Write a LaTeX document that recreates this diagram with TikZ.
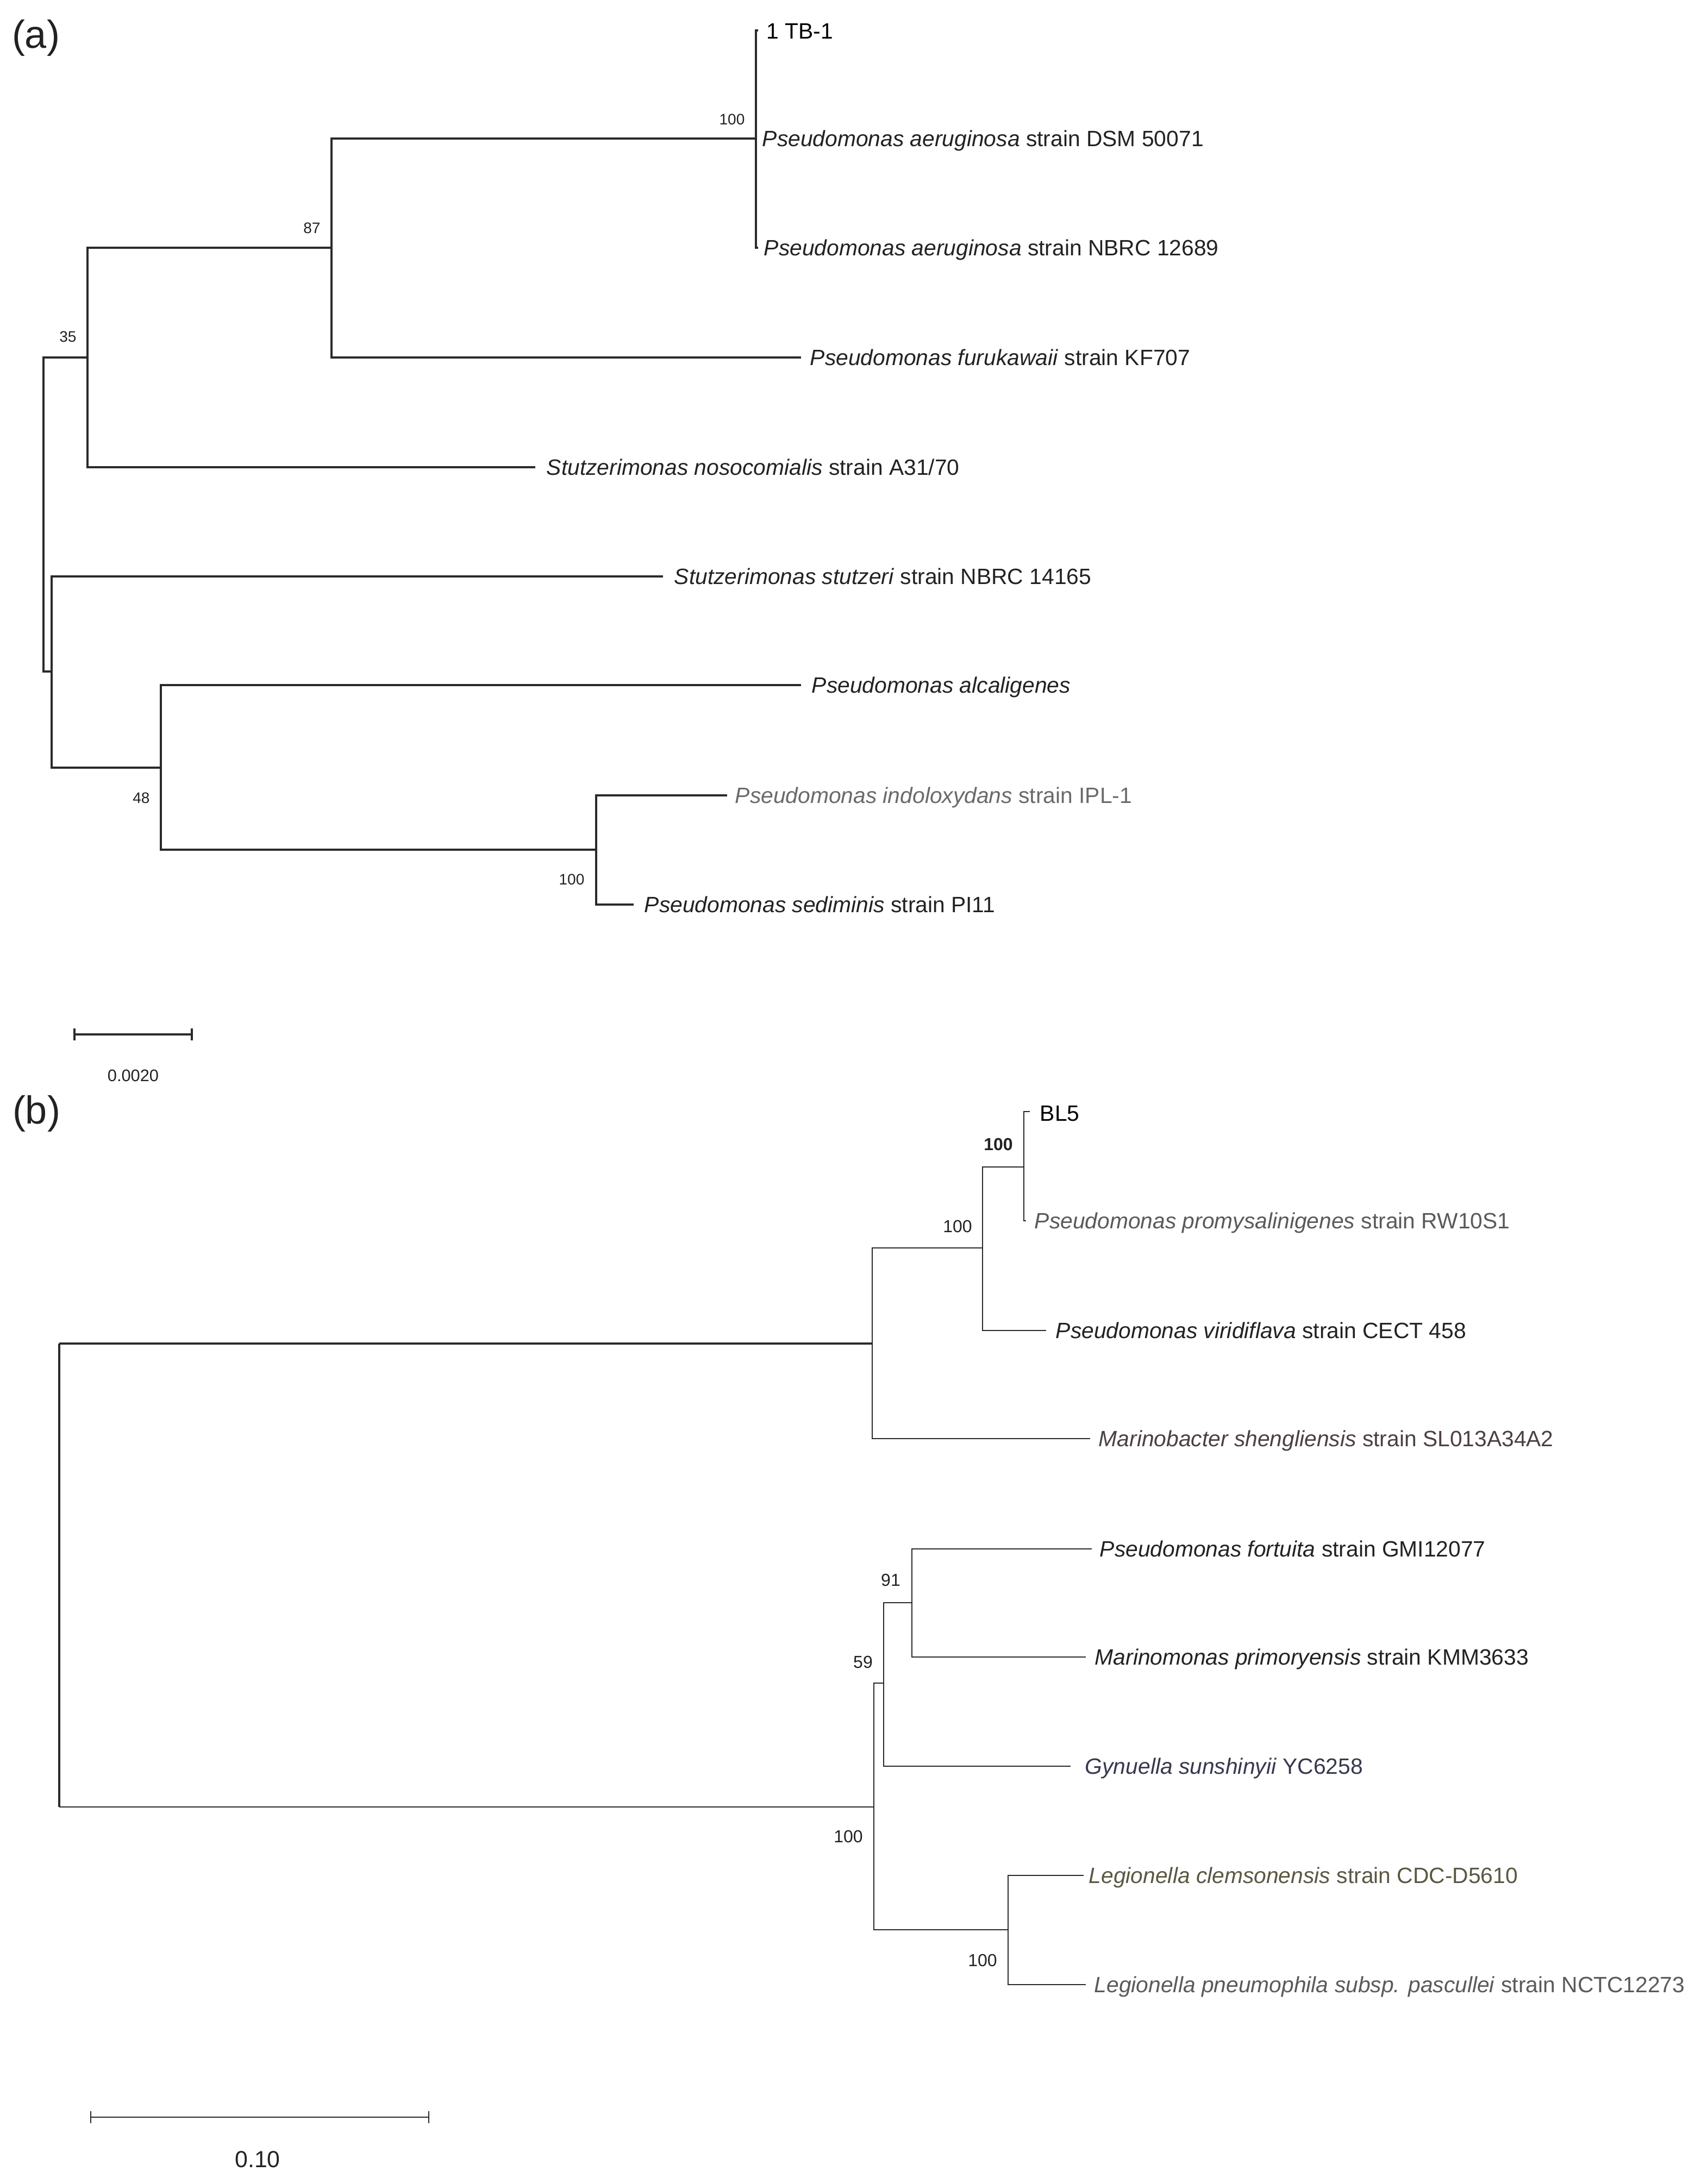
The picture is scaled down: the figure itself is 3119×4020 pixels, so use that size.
\documentclass[tikz,border=0pt]{standalone}
\usepackage{fontspec}
\setmainfont{Liberation Sans}
\usetikzlibrary{arrows.meta}
\definecolor{txt}{HTML}{222222}
\definecolor{ln}{HTML}{2A2A2A}
\definecolor{gryA}{HTML}{6A6A6A}
\definecolor{gryB}{HTML}{5A5A5A}
\definecolor{brn}{HTML}{4D3F40}
\definecolor{blu}{HTML}{38384E}
\definecolor{olv}{HTML}{5B5742}
\begin{document}
\begin{tikzpicture}[x=0.25pt,y=-0.25pt,
  bra/.style={line width=0.9pt, draw=ln},
  brb/.style={line width=0.6pt, draw=ln},
  leaf/.style={anchor=west, inner sep=0pt, text height=0.72em, text depth=0pt,
    font=\fontsize{10.2}{12}\selectfont, text=txt},
  boota/.style={inner sep=0pt, text height=0.72em, text depth=0pt,
    font=\fontsize{7}{8}\selectfont, text=txt},
  bootb/.style={inner sep=0pt, text height=0.72em, text depth=0pt,
    font=\fontsize{8}{9}\selectfont, text=txt},
  panel/.style={inner sep=0pt, font=\fontsize{18}{20}\selectfont, text=txt},
  scalebar/.style={{Bar[width=5.5pt]}-{Bar[width=5.5pt]}},
]
\useasboundingbox[fill=white] (0,0) rectangle (3119,4020);

% ---------------- panel (a) ----------------
\node[panel] (pa) at (66,70) {(a)};

\coordinate (ra) at (80,947);
\coordinate (a35) at (161,658);
\coordinate (a87) at (610,456);
\coordinate (a100) at (1391,255);
\coordinate (a2) at (95,1236);
\coordinate (a48) at (296,1413);
\coordinate (a100b) at (1097,1564);

\coordinate (tTB) at (1395,56);
\coordinate (tDSM) at (1391,255);
\coordinate (tNBRC) at (1395,456);
\coordinate (tFur) at (1474,658);
\coordinate (tNos) at (985,860);
\coordinate (tStu) at (1220,1061);
\coordinate (tAlc) at (1474,1261);
\coordinate (tInd) at (1338,1464);
\coordinate (tSed) at (1166,1665);

\node[leaf, text=black] (lTB) at (1410,57) {1 TB-1};
\node[leaf] (lDSM) at (1402,255) {\textit{Pseudomonas aeruginosa} strain DSM 50071};
\node[leaf] (lNBRC) at (1405,456) {\textit{Pseudomonas aeruginosa} strain NBRC 12689};
\node[leaf] (lFur) at (1490,658) {\textit{Pseudomonas furukawaii} strain KF707};
\node[leaf] (lNos) at (1005,860) {\textit{Stutzerimonas nosocomialis} strain A31/70};
\node[leaf] (lStu) at (1240,1061) {\textit{Stutzerimonas stutzeri} strain NBRC 14165};
\node[leaf] (lAlc) at (1493,1261) {\textit{Pseudomonas alcaligenes}};
\node[leaf, text=gryA] (lInd) at (1352,1464) {\textit{Pseudomonas indoloxydans} strain IPL-1};
\node[leaf] (lSed) at (1185,1665) {\textit{Pseudomonas sediminis} strain PI11};

\draw[bra] (ra) |- (a35);
\draw[bra] (ra) |- (a2);
\draw[bra] (a35) |- (a87);
\draw[bra] (a35) |- (tNos);
\draw[bra] (a87) |- (a100);
\draw[bra] (a87) |- (tFur);
\draw[bra] (a100) |- (tTB);
\draw[bra] (a100) |- (tDSM);
\draw[bra] (a100) |- (tNBRC);
\draw[bra] (a2) |- (tStu);
\draw[bra] (a2) |- (a48);
\draw[bra] (a48) |- (tAlc);
\draw[bra] (a48) |- (a100b);
\draw[bra] (a100b) |- (tInd);
\draw[bra] (a100b) |- (tSed);

\node[boota] (ba100) at (1347,215) {100};
\node[boota] (ba87) at (574,415) {87};
\node[boota] (ba35) at (125,615) {35};
\node[boota] (ba48) at (260,1464) {48};
\node[boota] (ba100b) at (1052,1614) {100};

\coordinate (sa1) at (135,1904);
\coordinate (sa2) at (355,1904);
\draw[bra, scalebar] (sa1) -- (sa2);
\node[inner sep=0pt, text height=0.72em, text depth=0pt, font=\fontsize{7.7}{9}\selectfont, text=txt] (sal) at (245,1976) {0.0020};

% ---------------- panel (b) ----------------
\node[panel] (pb) at (67,2050) {(b)};

\coordinate (rb) at (109,2900);
\coordinate (bA) at (1605,2473);
\coordinate (b100) at (1808,2297);
\coordinate (bBold) at (1884,2148);
\coordinate (bB) at (1608,3326);
\coordinate (b59) at (1626,3098);
\coordinate (b91) at (1678,2950);
\coordinate (bLeg) at (1855,3552);

\coordinate (tBL5) at (1895,2046);
\coordinate (tPro) at (1888,2247);
\coordinate (tVir) at (1925,2449);
\coordinate (tMar) at (2006,2648);
\coordinate (tFor) at (2009,2851);
\coordinate (tPri) at (1998,3050);
\coordinate (tGyn) at (1970,3251);
\coordinate (tCle) at (1994,3452);
\coordinate (tPne) at (1998,3653);

\node[leaf, text=black] (lBL5) at (1913,2049) {BL5};
\node[leaf, text=gryB] (lPro) at (1903,2247) {\textit{Pseudomonas promysalinigenes} strain RW10S1};
\node[leaf] (lVir) at (1942,2449) {\textit{Pseudomonas viridiflava} strain CECT 458};
\node[leaf, text=brn] (lMar) at (2021,2648) {\textit{Marinobacter shengliensis} strain SL013A34A2};
\node[leaf] (lFor) at (2023,2851) {\textit{Pseudomonas fortuita} strain GMI12077};
\node[leaf] (lPri) at (2014,3050) {\textit{Marinomonas primoryensis} strain KMM3633};
\node[leaf, text=blu] (lGyn) at (1996,3251) {\textit{Gynuella sunshinyii} YC6258};
\node[leaf, text=olv] (lCle) at (2003,3452) {\textit{Legionella clemsonensis} strain CDC-D5610};
\node[leaf, text=gryB] (lPne) at (2013,3653) {\textit{Legionella pneumophila subsp. pascullei} strain NCTC12273};

\draw[brb, line width=0.8pt] (rb |- bA) -- (rb |- bB);
\draw[brb, line width=0.85pt] (rb |- bA) -- (bA);
\draw[brb, line width=0.7pt] (rb |- bB) -- (bB);
\draw[brb] (bA) |- (b100);
\draw[brb] (bA) |- (tMar);
\draw[brb] (b100) |- (bBold);
\draw[brb] (b100) |- (tVir);
\draw[brb] (bBold) |- (tBL5);
\draw[brb] (bBold) |- (tPro);
\draw[brb] (bB) |- (b59);
\draw[brb] (bB) |- (bLeg);
\draw[brb] (b59) |- (b91);
\draw[brb] (b59) |- (tGyn);
\draw[brb] (b91) |- (tFor);
\draw[brb] (b91) |- (tPri);
\draw[brb] (bLeg) |- (tCle);
\draw[brb] (bLeg) |- (tPne);

\node[bootb, font=\fontsize{8}{9}\selectfont\bfseries] (bbBold) at (1837,2103) {100};
\node[bootb] (bb100) at (1762,2254) {100};
\node[bootb] (bb91) at (1639,2905) {91};
\node[bootb] (bb59) at (1588,3056) {59};
\node[bootb] (bbB) at (1561,3377) {100};
\node[bootb] (bbLeg) at (1808,3605) {100};

\coordinate (sb1) at (166,3897);
\coordinate (sb2) at (790,3897);
\draw[brb, scalebar] (sb1) -- (sb2);
\node[inner sep=0pt, text height=0.72em, text depth=0pt, font=\fontsize{10.7}{12}\selectfont, text=txt] (sbl) at (474,3975) {0.10};
\end{tikzpicture}
\end{document}
